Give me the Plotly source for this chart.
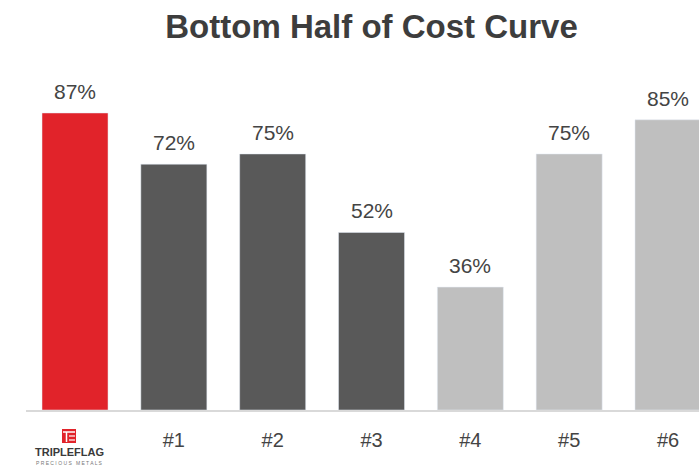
import plotly.graph_objects as go

categories = ["Triple Flag", "#1", "#2", "#3", "#4", "#5", "#6"]
values = [87, 72, 75, 52, 36, 75, 85]
tick_labels = ["", "#1", "#2", "#3", "#4", "#5", "#6"]
bar_colors = ["#e1232a", "#595959", "#595959", "#595959", "#bfbfbf", "#bfbfbf", "#bfbfbf"]

W, H = 699, 466
ML, MR, MT, MB = 26, 0, 69, 56
PW, PH = W - ML - MR, H - MT - MB

def px(x):
    return (x - ML) / PW

def py(y):
    return (H - MB - y) / PH

fig = go.Figure()
fig.add_trace(go.Bar(
    x=categories, y=values, marker_color=bar_colors, width=0.668,
    hoverinfo="skip", showlegend=False,
))

for c, v in zip(categories, values):
    fig.add_annotation(x=c, y=v, xref="x", yref="y", text=f"{v}%",
                       showarrow=False, yanchor="bottom", yshift=8,
                       font=dict(size=21, color="#444444"))

# logo
fig.add_annotation(x=px(69.5), y=py(452), xref="paper", yref="paper",
                   text="<b>TRIPLEFLAG</b>", showarrow=False,
                   xanchor="center", yanchor="middle",
                   font=dict(size=11, color="#3a3a3a"))
fig.add_annotation(x=px(69.5), y=py(462.5), xref="paper", yref="paper",
                   text="P R E C I O U S   M E T A L S", showarrow=False,
                   xanchor="center", yanchor="middle",
                   font=dict(size=5, color="#777777"))
fig.add_shape(type="rect", xref="paper", yref="paper",
              x0=px(62), x1=px(76), y0=py(443), y1=py(429),
              fillcolor="#e1232a", line_width=0)
fig.add_shape(type="line", xref="paper", yref="paper",
              x0=px(63), x1=px(75), y0=py(432), y1=py(432),
              line=dict(color="white", width=1.5))
fig.add_shape(type="line", xref="paper", yref="paper",
              x0=px(66.5), x1=px(66.5), y0=py(432), y1=py(442),
              line=dict(color="white", width=1.5))
fig.add_shape(type="line", xref="paper", yref="paper",
              x0=px(69), x1=px(75), y0=py(436), y1=py(436),
              line=dict(color="white", width=1.2))
fig.add_shape(type="line", xref="paper", yref="paper",
              x0=px(69), x1=px(75), y0=py(440), y1=py(440),
              line=dict(color="white", width=1.2))

fig.update_layout(
    width=W, height=H,
    margin=dict(l=ML, r=MR, t=MT, b=MB),
    paper_bgcolor="white", plot_bgcolor="white",
    font=dict(family="Liberation Sans, Arial, sans-serif", color="#444444"),
    title=dict(text="<b>Bottom Half of Cost Curve</b>", xref="container",
               x=371.5 / W, xanchor="center", y=1 - 26.5 / H, yanchor="middle",
               font=dict(size=33, color="#3d3d3d")),
    xaxis=dict(type="category", range=[-0.496, -0.496 + PW / 98.83],
               tickmode="array", tickvals=categories, ticktext=tick_labels,
               showline=True, linecolor="#d9d9d9", linewidth=2,
               ticks="outside", ticklen=11, tickcolor="rgba(0,0,0,0)",
               tickfont=dict(size=20, color="#444444"),
               showgrid=False, zeroline=False, fixedrange=True),
    yaxis=dict(range=[0, PH / 3.414], visible=False, showgrid=False,
               zeroline=False, fixedrange=True),
)

fig.write_html("out.html")
